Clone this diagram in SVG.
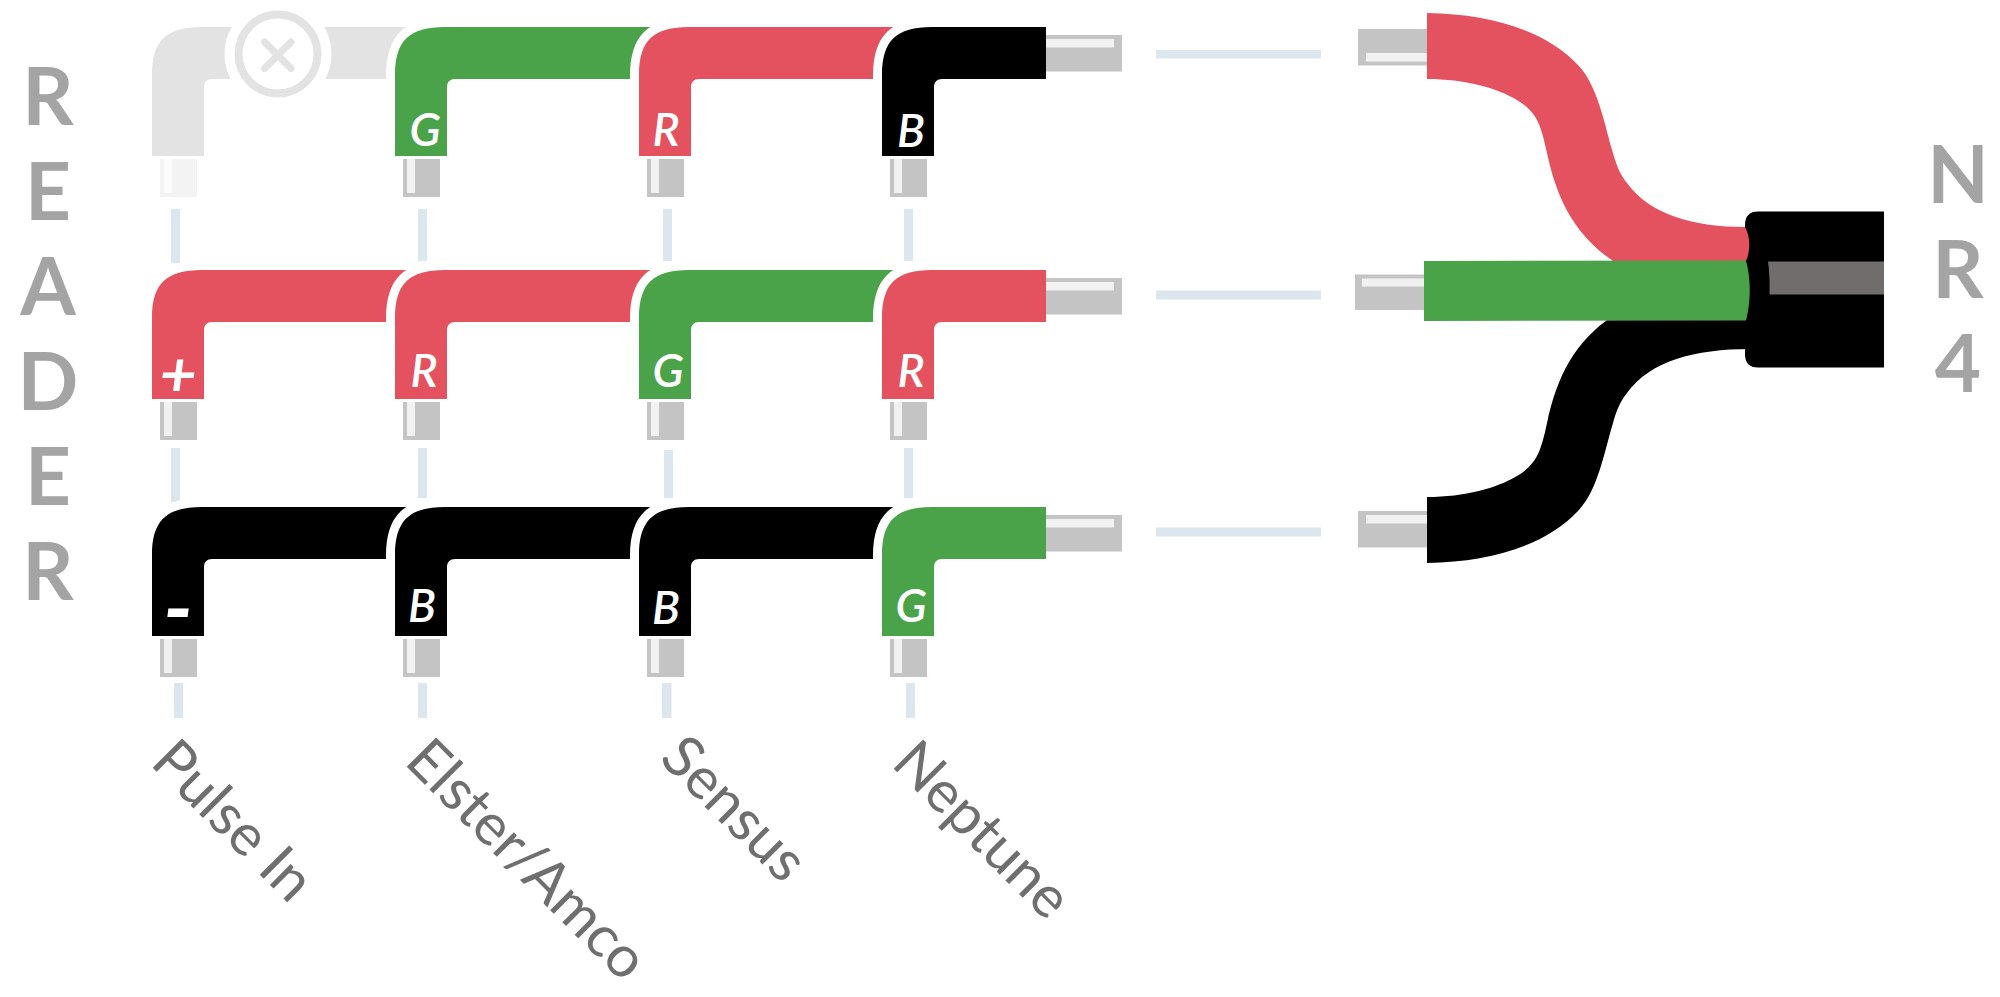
<svg xmlns="http://www.w3.org/2000/svg" width="2000" height="997" viewBox="0 0 2000 997">
<style>
.red{fill:#e4525f}.grn{fill:#4aa349}.blk{fill:#000}.off{fill:#e3e3e3}
.w{stroke:#fff;stroke-width:18;paint-order:stroke}
.pin{fill:#c4c4c4}.hi{fill:#f1f1f1}
.dash{fill:#dce6ee}
.big{font-family:Lato,"Liberation Sans",sans-serif;font-size:80px;font-weight:700;fill:#a4a4a4;text-anchor:middle}
.lab{font-family:Lato,"Liberation Sans",sans-serif;font-size:58px;fill:#6f6f6f}
.t{font-family:Lato,"Liberation Sans",sans-serif;font-size:46px;font-style:italic;font-weight:600;fill:#fff;text-anchor:middle}
.s{font-family:Lato,"Liberation Sans",sans-serif;font-size:64px;font-style:italic;font-weight:700;fill:#fff;text-anchor:middle}
</style>
<defs>
<path id="wl" d="M0 129V48C0 14 14 0 50 0H283V52H60C55 52 52 55 52 60V129Z"/>
<path id="ws" d="M0 129V48C0 14 14 0 50 0H164V52H60C55 52 52 55 52 60V129Z"/>
<g id="pv"><rect class="pin" x="8" y="132" width="37" height="38"/><rect class="hi" x="12" y="132" width="8" height="34"/></g>
<g id="ph"><rect class="pin" x="164" y="8" width="76" height="36.500"/><rect class="hi" x="164" y="12" width="68" height="8.500"/></g>
</defs>
<g id="connectors">
<rect class="dash" x="171" y="209" width="9" height="54"/><rect class="dash" x="418" y="209" width="9" height="54"/><rect class="dash" x="663" y="209" width="9" height="54"/><rect class="dash" x="904" y="209" width="9" height="54"/>
<rect class="dash" x="171" y="448" width="9" height="54"/><rect class="dash" x="418" y="448" width="9" height="54"/><rect class="dash" x="664" y="450" width="9" height="53"/><rect class="dash" x="904" y="448" width="9" height="54"/>
<rect class="dash" x="174" y="683" width="9" height="35"/><rect class="dash" x="418" y="683" width="9" height="35"/><rect class="dash" x="662" y="683" width="9.500" height="35"/><rect class="dash" x="906" y="683" width="9" height="35"/>
<rect class="dash" x="1156" y="50" width="165" height="8.500"/><rect class="dash" x="1156" y="290.500" width="165" height="9"/><rect class="dash" x="1156" y="527.500" width="165" height="9"/>
</g>
<g id="reader-r1c1"><use href="#wl" class="off" x="152" y="27"/><use href="#pv" x="152" y="27" opacity=".2"/>
<circle cx="278" cy="54" r="53.500" fill="#fff"/><circle cx="278" cy="54" r="39.500" fill="#fff" stroke="#e3e3e3" stroke-width="8"/><path d="M264.500 42L291 68.500M291 42L264.500 68.500" fill="none" stroke="#e3e3e3" stroke-width="7" stroke-linecap="round"/></g>
<g id="reader-r1c2"><use href="#wl" class="grn w" x="395" y="27"/><use href="#pv" x="395" y="27"/><text class="t" x="425" y="146">G</text></g>
<g id="reader-r1c3"><use href="#wl" class="red w" x="639" y="27"/><use href="#pv" x="639" y="27"/><text class="t" x="666" y="146">R</text></g>
<g id="reader-r1c4"><use href="#ws" class="blk w" x="882" y="27"/><use href="#pv" x="882" y="27"/><use href="#ph" x="882" y="27"/><text class="t" x="911" y="147">B</text></g>
<g id="reader-r2c1"><use href="#wl" class="red w" x="152" y="270"/><use href="#pv" x="152" y="270"/><text class="s" x="178" y="396">+</text></g>
<g id="reader-r2c2"><use href="#wl" class="red w" x="395" y="270"/><use href="#pv" x="395" y="270"/><text class="t" x="424" y="387">R</text></g>
<g id="reader-r2c3"><use href="#wl" class="grn w" x="639" y="270"/><use href="#pv" x="639" y="270"/><text class="t" x="668" y="387">G</text></g>
<g id="reader-r2c4"><use href="#ws" class="red w" x="882" y="270"/><use href="#pv" x="882" y="270"/><use href="#ph" x="882" y="270"/><text class="t" x="911" y="387">R</text></g>
<g id="reader-r3c1"><use href="#wl" class="blk w" x="152" y="507"/><use href="#pv" x="152" y="507"/><text class="s" x="178" y="638" style="font-size:84px">-</text></g>
<g id="reader-r3c2"><use href="#wl" class="blk w" x="395" y="507"/><use href="#pv" x="395" y="507"/><text class="t" x="422" y="622">B</text></g>
<g id="reader-r3c3"><use href="#wl" class="blk w" x="639" y="507"/><use href="#pv" x="639" y="507"/><text class="t" x="666" y="624">B</text></g>
<g id="reader-r3c4"><use href="#ws" class="grn w" x="882" y="507"/><use href="#pv" x="882" y="507"/><use href="#ph" x="882" y="507"/><text class="t" x="911" y="622">G</text></g>
<g id="nr4-cable">
<path class="blk" d="M1758 211.500H1884V367.500H1758Q1745 367.500 1745 354V225Q1745 211.500 1758 211.500Z"/>
<path fill="#716d6c" d="M1768 261.500H1884V294.500H1769.500Q1770 275 1768 261.500Z"/>
</g>
<g id="nr4-black"><rect class="pin" x="1358" y="511" width="70" height="36.500"/><rect class="hi" x="1366" y="515" width="62" height="8.500"/>
<path class="blk" d="M1427 563C1490 562 1545 546 1578 511C1598 490 1604 453 1613 423C1617 409 1620 402 1627 393C1650 361 1695 349 1750 349V300H1613V316C1575 341 1557 376 1547 423C1541 451 1537 464 1517 476C1497 488 1465 497 1427 497Z"/></g>
<g id="nr4-red"><rect class="pin" x="1358" y="29" width="70" height="36.500"/><rect class="hi" x="1366" y="53" width="62" height="8.500"/>
<path class="red" d="M1427 13C1490 14 1545 30 1578 65C1598 86 1604 123 1613 153C1617 167 1620 174 1627 183C1650 215 1695 227 1745 227C1750 235 1751 250 1746 261H1613C1575 235 1557 200 1547 153C1541 125 1537 112 1517 100C1497 88 1465 79 1427 79Z"/></g>
<g id="nr4-green"><rect class="pin" x="1355" y="274.500" width="70" height="35.500"/><rect class="hi" x="1362" y="278.500" width="63" height="8"/>
<path class="grn" d="M1424 261L1746 260.500C1751 280 1751 300 1746 320.500L1424 321Z"/></g>
<g id="title-reader"><text class="big" x="48" y="125">R</text><text class="big" x="48" y="220">E</text><text class="big" x="48" y="315">A</text><text class="big" x="48" y="410">D</text><text class="big" x="48" y="505">E</text><text class="big" x="48" y="600">R</text></g>
<g id="title-nr4"><text class="big" x="1958" y="203">N</text><text class="big" x="1958" y="298">R</text><text class="big" x="1958" y="392">4</text></g>
<g id="labels">
<text class="lab" transform="translate(149 764) rotate(45)">Pulse In</text>
<text class="lab" transform="translate(403 763) rotate(45)">Elster/Amco</text>
<text class="lab" transform="translate(658 760) rotate(45)">Sensus</text>
<text class="lab" transform="translate(890 765) rotate(45)">Neptune</text>
</g>
</svg>
